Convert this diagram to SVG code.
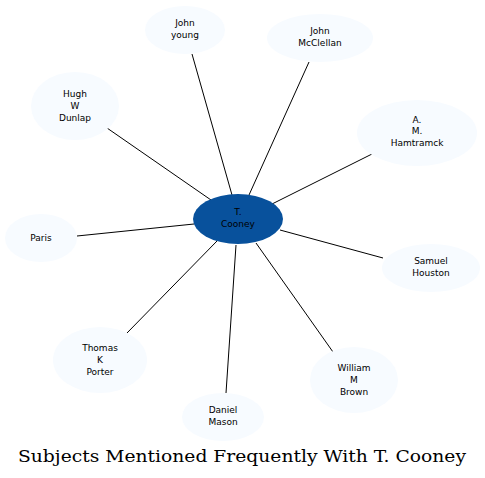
<svg xmlns="http://www.w3.org/2000/svg" width="485" height="478" viewBox="0 0 485 478">
<style>
.n{fill:#f7fbff;stroke:none}
.c{fill:#08519c;stroke:none}
.t{font-family:"DejaVu Sans",sans-serif;font-size:9px;text-anchor:middle;fill:#000}
.e{stroke:#000;stroke-width:1;fill:none}
.title{font-family:"DejaVu Serif",serif;font-size:17px;text-anchor:middle;fill:#000}
</style>
<rect width="485" height="478" fill="#fff"/>
<g id="edges">
<line class="e" x1="192" y1="54" x2="232" y2="195"/>
<line class="e" x1="309" y1="62" x2="249" y2="195"/>
<line class="e" x1="107" y1="128" x2="211" y2="200"/>
<line class="e" x1="372" y1="154" x2="272" y2="204"/>
<line class="e" x1="77" y1="236" x2="194" y2="224"/>
<line class="e" x1="383" y1="258" x2="280" y2="230"/>
<line class="e" x1="127" y1="333" x2="217" y2="241"/>
<line class="e" x1="333" y1="352" x2="256" y2="243"/>
<line class="e" x1="226" y1="393" x2="236" y2="245"/>
</g>
<g id="cooney"><ellipse class="c" cx="238" cy="219" rx="45" ry="25"/><text class="t" x="238" y="215">T.</text><text class="t" x="238" y="227">Cooney</text></g>
<g id="john_young"><ellipse class="n" cx="185" cy="30" rx="40" ry="24"/><text class="t" x="185" y="26">John</text><text class="t" x="185" y="38">young</text></g>
<g id="john_mcclellan"><ellipse class="n" cx="320" cy="38" rx="53" ry="24"/><text class="t" x="320" y="34">John</text><text class="t" x="320" y="46">McClellan</text></g>
<g id="hugh_dunlap"><ellipse class="n" cx="75" cy="106" rx="44" ry="34"/><text class="t" x="75" y="97">Hugh</text><text class="t" x="75" y="109">W</text><text class="t" x="75" y="121">Dunlap</text></g>
<g id="hamtramck"><ellipse class="n" cx="417" cy="133" rx="60" ry="33"/><text class="t" x="417" y="123">A.</text><text class="t" x="417" y="134">M.</text><text class="t" x="417" y="146">Hamtramck</text></g>
<g id="paris"><ellipse class="n" cx="41" cy="238" rx="36" ry="24"/><text class="t" x="41" y="241">Paris</text></g>
<g id="samuel_houston"><ellipse class="n" cx="431" cy="268" rx="49" ry="24"/><text class="t" x="431" y="264">Samuel</text><text class="t" x="431" y="276">Houston</text></g>
<g id="thomas_porter"><ellipse class="n" cx="100" cy="360" rx="47" ry="33"/><text class="t" x="100" y="351">Thomas</text><text class="t" x="100" y="363">K</text><text class="t" x="100" y="375">Porter</text></g>
<g id="william_brown"><ellipse class="n" cx="354" cy="380" rx="44" ry="33"/><text class="t" x="354" y="371">William</text><text class="t" x="354" y="383">M</text><text class="t" x="354" y="395">Brown</text></g>
<g id="daniel_mason"><ellipse class="n" cx="223" cy="417" rx="41" ry="24"/><text class="t" x="223" y="413">Daniel</text><text class="t" x="223" y="425">Mason</text></g>
<text class="title" x="242" y="462" textLength="448" lengthAdjust="spacingAndGlyphs">Subjects Mentioned Frequently With T. Cooney</text>
</svg>
